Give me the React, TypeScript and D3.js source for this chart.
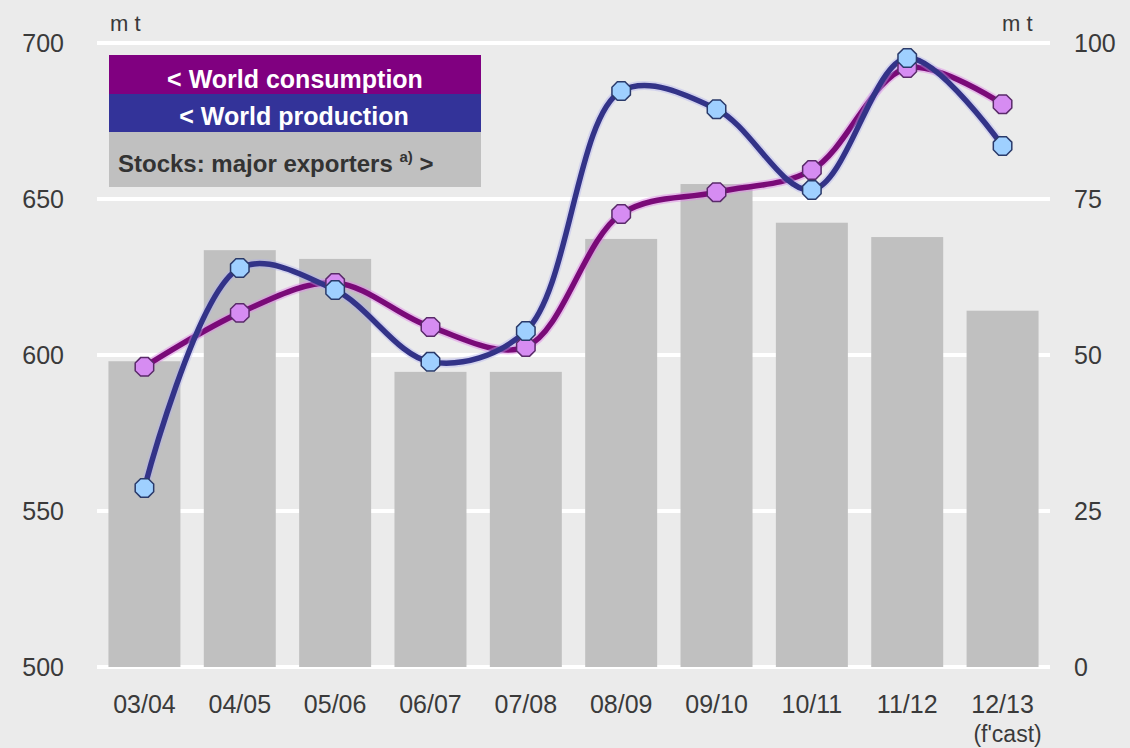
import React from "react";
import * as d3 from "d3";

const categories = ["03/04", "04/05", "05/06", "06/07", "07/08", "08/09", "09/10", "10/11", "11/12", "12/13"];
const stocks = [49.0, 66.8, 65.4, 47.3, 47.3, 68.6, 77.4, 71.2, 68.9, 57.1];
const consumption = [596.2, 613.5, 623.1, 609.0, 602.6, 645.2, 652.2, 659.3, 692.0, 680.4];
const production = [557.4, 627.9, 620.8, 597.8, 607.7, 684.6, 678.8, 652.9, 695.2, 667.0];
const leftTicks = [500, 550, 600, 650, 700];
const rightTicks = [0, 25, 50, 75, 100];

const W = 1130;
const H = 748;
const FONT = "'Liberation Sans', Arial, sans-serif";

export default function App() {
  const x = d3.scaleBand<string>().domain(categories).range([97, 1050]).paddingInner(0.245).paddingOuter(0.12);
  const yL = d3.scaleLinear().domain([500, 700]).range([667, 43]);
  const yR = d3.scaleLinear().domain([0, 100]).range([667, 43]);
  const cx = (i: number) => (x(categories[i]) as number) + x.bandwidth() / 2;

  const line = d3
    .line<number>()
    .x((_, i) => cx(i))
    .y((d) => yL(d))
    .curve(d3.curveCatmullRom.alpha(0.5));

  const octo = (r: number) => {
    const pts: string[] = [];
    for (let k = 0; k < 8; k++) {
      const a = Math.PI / 8 + (k * Math.PI) / 4;
      pts.push(`${(r * Math.cos(a)).toFixed(2)},${(r * Math.sin(a)).toFixed(2)}`);
    }
    return pts.join(" ");
  };

  return (
    <svg width={W} height={H} style={{ position: "absolute", left: 0, top: 0, display: "block" }} fontFamily={FONT}>
      <rect x={0} y={0} width={W} height={H} fill="#ebebeb" />
      {leftTicks.map((t) => (
        <line key={t} x1={97} x2={1050} y1={yL(t)} y2={yL(t)} stroke="#ffffff" strokeWidth={4} />
      ))}
      {categories.map((c, i) => (
        <rect key={c} x={x(c)} y={yR(stocks[i])} width={x.bandwidth()} height={yR(0) - yR(stocks[i])} fill="#c0c0c0" />
      ))}
      {leftTicks.map((t) => (
        <text key={"l" + t} x={64} y={yL(t) + 9} fontSize={25} fill="#3a3a3a" textAnchor="end">
          {t}
        </text>
      ))}
      {rightTicks.map((t) => (
        <text key={"r" + t} x={1074} y={yR(t) + 9} fontSize={25} fill="#3a3a3a">
          {t}
        </text>
      ))}
      <text x={110} y={31} fontSize={22} fill="#3a3a3a">m t</text>
      <text x={1002} y={31} fontSize={22} fill="#3a3a3a">m t</text>
      {categories.map((c, i) => (
        <text key={"x" + c} x={cx(i)} y={713} fontSize={25} fill="#3a3a3a" textAnchor="middle">
          {c}
        </text>
      ))}
      <text x={cx(9) + 5} y={742} fontSize={23} fill="#3a3a3a" textAnchor="middle">(f'cast)</text>

      {/* legend */}
      <rect x={109} y={55} width={372} height={39} fill="#800080" />
      <rect x={109} y={94} width={372} height={38} fill="#333399" />
      <rect x={109} y={132} width={372} height={55} fill="#c0c0c0" />
      <text x={295} y={88} fontSize={25} fontWeight="bold" fill="#ffffff" textAnchor="middle">&lt; World consumption</text>
      <text x={294} y={125} fontSize={25} fontWeight="bold" fill="#ffffff" textAnchor="middle">&lt; World production</text>
      <text x={118} y={172} fontSize={24} fontWeight="bold" fill="#333333">
        Stocks: major exporters <tspan fontSize={15} dy={-10}>a)</tspan>
        <tspan dy={10}> &gt;</tspan>
      </text>

      {/* lines */}
      <path d={line(consumption) || ""} fill="none" stroke="#e08ce8" strokeWidth={9} strokeOpacity={0.5} />
      <path d={line(consumption) || ""} fill="none" stroke="#7a0a78" strokeWidth={5.5} />
      <path d={line(production) || ""} fill="none" stroke="#b0b0f0" strokeWidth={9} strokeOpacity={0.4} />
      <path d={line(production) || ""} fill="none" stroke="#333388" strokeWidth={5.5} />
      {consumption.map((v, i) => (
        <polygon key={"c" + i} points={octo(10)} transform={`translate(${cx(i)},${yL(v)})`} fill="#d68cf2" stroke="#5a2a6a" strokeWidth={1.5} />
      ))}
      {production.map((v, i) => (
        <polygon key={"p" + i} points={octo(10)} transform={`translate(${cx(i)},${yL(v)})`} fill="#9fd0ff" stroke="#2a3a6a" strokeWidth={1.5} />
      ))}
    </svg>
  );
}
